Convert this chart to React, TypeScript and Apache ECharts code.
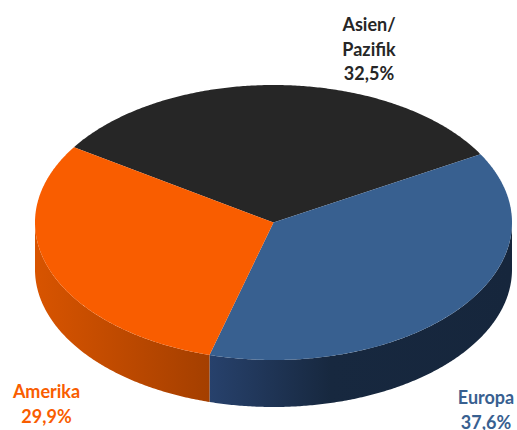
import React, { useEffect, useRef } from "react";
import * as echarts from "echarts";

// Regional revenue shares, clockwise from the back-left edge of the disc.
const regions = ["Asien/\nPazifik", "Europa", "Amerika"];
const shares = [32.5, 37.6, 29.9];
const shareLabels = ["32,5%", "37,6%", "29,9%"];

const topColors = ["#262626", "#386090", "#F95D00"];
const sideStops: [number, string][][] = [
  [[0, "#1a1a1a"], [1, "#1a1a1a"]],
  [[0, "#27416C"], [0.4, "#17283F"], [1, "#16263C"]],
  [[0, "#D85400"], [1, "#A43F00"]],
];
const labelColors = ["#262626", "#386090", "#F95D00"];
const labelPositions = [
  [369, 12],
  [486, 385],
  [46.5, 379],
];

const CX = 273.5;
const CY = 222.5;
const RX = 238.5;
const RY = 137.5;
const DEPTH = 47;
const START_DEG = 303.2;

const rad = (deg: number) => (deg * Math.PI) / 180;

// Points along the elliptical rim between two angles, measured clockwise from the top.
function rim(a: number, b: number, dy: number) {
  const steps = Math.max(2, Math.ceil(Math.abs(b - a) * 2));
  const pts: number[][] = [];
  for (let k = 0; k <= steps; k++) {
    const t = rad(a + ((b - a) * k) / steps);
    pts.push([CX + RX * Math.sin(t), CY - RY * Math.cos(t) + dy]);
  }
  return pts;
}

export default function App() {
  const ref = useRef<HTMLDivElement>(null);

  useEffect(() => {
    const chart = echarts.init(ref.current!, undefined, { renderer: "svg" });
    const total = shares.reduce((s, v) => s + v, 0);

    const renderItem = (params: any, api: any) => {
      const i = params.dataIndex;
      const before = shares.slice(0, i).reduce((s, v) => s + v, 0);
      const a = START_DEG + (before / total) * 360;
      const b = a + (Number(api.value(0)) / total) * 360;

      const children: any[] = [];
      // Only the front half of the rim (90..270 degrees) is visible.
      for (const offset of [-360, 0, 360]) {
        const lo = Math.max(a + offset, 90);
        const hi = Math.min(b + offset, 270);
        if (hi > lo) {
          children.push({
            type: "polygon",
            shape: { points: [...rim(lo, hi, 0), ...rim(hi, lo, DEPTH)] },
            style: {
              fill: new echarts.graphic.LinearGradient(
                0,
                0,
                1,
                0,
                sideStops[i].map(([offset, color]) => ({ offset, color }))
              ),
            },
          });
        }
      }
      children.push({
        type: "polygon",
        shape: { points: [[CX, CY], ...rim(a, b, 0)] },
        style: { fill: topColors[i] },
      });
      children.push({
        type: "text",
        x: labelPositions[i][0],
        y: labelPositions[i][1],
        style: {
          text: `${regions[i]}\n${shareLabels[i]}`,
          fill: labelColors[i],
          font: 'bold 18px Lato, "Open Sans", sans-serif',
          lineHeight: 24.5,
          align: "center",
          verticalAlign: "top",
        },
      });
      return { type: "group", children };
    };

    chart.setOption({
      animation: false,
      backgroundColor: "#ffffff",
      series: [
        {
          type: "custom",
          coordinateSystem: "none",
          data: shares,
          renderItem,
          silent: true,
          clip: false,
        },
      ],
    });
    return () => chart.dispose();
  }, []);

  return (
    <div
      ref={ref}
      style={{ position: "absolute", left: 0, top: 0, width: 517, height: 430, overflow: "hidden" }}
    />
  );
}
